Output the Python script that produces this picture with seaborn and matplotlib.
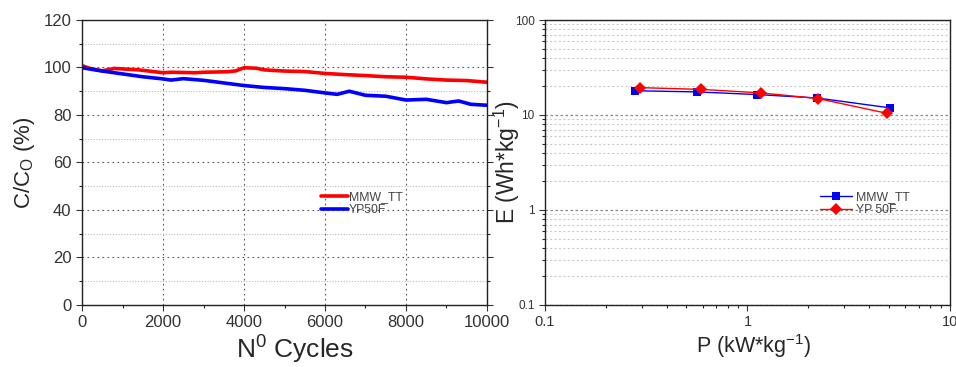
import numpy as np
import pandas as pd
import matplotlib
matplotlib.use("Agg")
import matplotlib.pyplot as plt
import seaborn as sns
from matplotlib.ticker import MultipleLocator, LogLocator, NullFormatter, FixedLocator, FixedFormatter

# ---- data: cycling ----
cyc_red = [0, 200, 500, 800, 1000, 1400, 1600, 2000, 2200, 2800, 3000, 3600, 3800, 4000, 4300, 4500,
           5000, 5500, 6000, 6500, 7000, 7500, 8000, 8500, 9000, 9500, 10000]
ret_red = [100.8, 99.6, 98.6, 99.6, 99.4, 99.0, 98.6, 97.8, 98.0, 97.8, 98.0, 98.2, 98.6, 99.9, 99.7, 99.0,
           98.5, 98.3, 97.5, 97.0, 96.6, 96.1, 95.9, 95.2, 94.7, 94.5, 93.8]
cyc_blue = [0, 500, 1000, 1500, 2000, 2200, 2500, 3000, 3500, 4000, 4500, 5000, 5500, 6000, 6300, 6600,
            7000, 7500, 8000, 8500, 9000, 9300, 9600, 10000]
ret_blue = [99.9, 98.5, 97.3, 96.1, 95.2, 94.7, 95.3, 94.6, 93.5, 92.4, 91.6, 91.1, 90.4, 89.3, 88.7, 90.0,
            88.3, 87.9, 86.3, 86.6, 85.2, 85.9, 84.5, 84.1]

# ---- data: Ragone ----
p_mmw = [0.279, 0.563, 1.12, 2.21, 5.04]
e_mmw = [18.0, 17.5, 16.4, 15.1, 11.9]
p_yp = [0.296, 0.589, 1.16, 2.23, 4.90]
e_yp = [19.4, 18.6, 17.1, 14.9, 10.4]

sns.set_style("white")
plt.rcParams['font.family'] = ['Liberation Sans', 'DejaVu Sans']
plt.rcParams['mathtext.fontset'] = 'custom'
plt.rcParams['mathtext.rm'] = 'Liberation Sans'
plt.rcParams['mathtext.it'] = 'Liberation Sans'

fig = plt.figure(figsize=(9.56, 3.67), dpi=100)
ax1 = fig.add_axes([0.0858, 0.169, 0.4236, 0.7765])
ax2 = fig.add_axes([0.570, 0.169, 0.4237, 0.7765])

df1 = pd.concat([
    pd.DataFrame({"cycles": cyc_red, "ret": ret_red, "s": "MMW_TT"}),
    pd.DataFrame({"cycles": cyc_blue, "ret": ret_blue, "s": "YP50F"}),
])
sns.lineplot(data=df1, x="cycles", y="ret", hue="s", palette={"MMW_TT": "#ff0000", "YP50F": "#0000ff"},
             linewidth=2.6, ax=ax1, estimator=None, sort=False)
ax1.set_xlim(0, 10000)
ax1.set_ylim(0, 120)
ax1.xaxis.set_major_locator(MultipleLocator(2000))
ax1.xaxis.set_minor_locator(MultipleLocator(1000))
ax1.yaxis.set_major_locator(MultipleLocator(20))
ax1.yaxis.set_minor_locator(MultipleLocator(10))
ax1.grid(True, which='major', color='#555555', linestyle=(0, (1.5, 3)), linewidth=0.8)
ax1.grid(True, which='minor', axis='y', color='#bbbbbb', linestyle=(0, (1, 1.5)), linewidth=0.8)
ax1.tick_params(which='major', direction='out', length=4, width=0.8, labelsize=12, colors='#333333',
                left=True, bottom=True, right=True, top=False)
ax1.tick_params(which='minor', direction='out', length=2, width=0.8, left=True, bottom=True, right=True)
for s in ax1.spines.values():
    s.set_color('#222222'); s.set_linewidth(1.0); s.set_visible(True)
ax1.set_xlabel(r"N$^0$ Cycles", fontsize=19)
ax1.set_ylabel(r"C/C$_{\mathrm{O}}$ (%)", fontsize=16)
ax1.xaxis.set_label_coords(0.525, -0.1)
ax1.yaxis.set_label_coords(-0.11, 0.5)
leg1 = ax1.legend(loc='upper left', bbox_to_anchor=(0.575, 0.42), frameon=False, fontsize=8.8,
                  handlelength=2.2, handletextpad=0.1, labelspacing=0.05, borderpad=0)
for t in leg1.get_texts():
    t.set_color('#444444')

df2 = pd.concat([
    pd.DataFrame({"P": p_mmw, "E": e_mmw, "s": "MMW_TT"}),
    pd.DataFrame({"P": p_yp, "E": e_yp, "s": "YP 50F"}),
])
sns.lineplot(data=df2, x="P", y="E", hue="s", style="s", markers={"MMW_TT": "s", "YP 50F": "D"},
             dashes=False, palette={"MMW_TT": "#0000ff", "YP 50F": "#ff0000"}, linewidth=1.0,
             markersize=6, markeredgewidth=0, ax=ax2, estimator=None, sort=False)
ax2.set_xscale('log')
ax2.set_yscale('log')
ax2.set_xlim(0.1, 10)
ax2.set_ylim(0.1, 100)
ax2.xaxis.set_major_locator(FixedLocator([0.1, 1, 10]))
ax2.xaxis.set_major_formatter(FixedFormatter(["0.1", "1", "10"]))
ax2.xaxis.set_minor_locator(LogLocator(base=10, subs=np.arange(2, 10)))
ax2.xaxis.set_minor_formatter(NullFormatter())
ax2.yaxis.set_major_locator(FixedLocator([0.1, 1, 10, 100]))
ax2.yaxis.set_major_formatter(FixedFormatter(["0.1", "1", "10", "100"]))
ax2.yaxis.set_minor_locator(LogLocator(base=10, subs=np.arange(2, 10)))
ax2.yaxis.set_minor_formatter(NullFormatter())
ax2.grid(True, which='major', axis='y', color='#888888', linestyle=(0, (2, 2)), linewidth=0.9)
ax2.grid(True, which='minor', axis='y', color='#cccccc', linestyle=(0, (2, 2)), linewidth=0.8)
ax2.tick_params(which='major', direction='out', length=4, width=0.8, colors='#333333', left=True, bottom=True)
ax2.tick_params(which='minor', direction='out', length=2, width=0.8, left=True, bottom=True)
ax2.tick_params(axis='y', which='major', labelsize=8.5)
ax2.tick_params(axis='x', which='major', labelsize=10.5)
for s in ax2.spines.values():
    s.set_color('#222222'); s.set_linewidth(1.0); s.set_visible(True)
ax2.set_xlabel(r"P (kW*kg$^{-1}$)", fontsize=15.5)
ax2.set_ylabel(r"E (Wh*kg$^{-1}$)", fontsize=16.5)
ax2.xaxis.set_label_coords(0.515, -0.095)
ax2.yaxis.set_label_coords(-0.056, 0.5)
leg2 = ax2.legend(loc='upper left', bbox_to_anchor=(0.665, 0.42), frameon=False, fontsize=8.8,
                  handlelength=2.6, handletextpad=0.3, labelspacing=0.05, borderpad=0)
for t in leg2.get_texts():
    t.set_color('#444444')

fig.savefig("out.png", dpi=100)
